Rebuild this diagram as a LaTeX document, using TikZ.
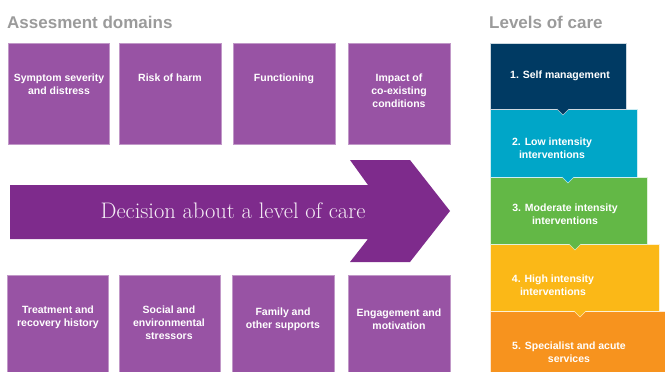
\documentclass[tikz,border=0pt]{standalone}
\usepackage{fontspec}
\setmainfont{Latin Modern Roman}
\newfontfamily\boxfont[BoldFont={Liberation Sans Bold}]{Liberation Sans}
\definecolor{domainfill}{HTML}{9853A4}
\definecolor{arrowpurple}{HTML}{7E2B8C}
\definecolor{titlegray}{HTML}{9B9B9B}
\definecolor{lvlone}{HTML}{003A63}
\definecolor{lvltwo}{HTML}{00A6C8}
\definecolor{lvlthree}{HTML}{63B846}
\definecolor{lvlfour}{HTML}{FBB817}
\definecolor{lvlfive}{HTML}{F7931E}
\tikzset{
  dombox/.style={fill=domainfill, draw=domainfill!60!white, line width=0.5pt},
  boxtext/.style={text=white, font=\boxfont\bfseries\fontsize{10.5}{13}\selectfont, align=center, inner sep=0pt},
  titletext/.style={text=titlegray, font=\boxfont\bfseries\fontsize{17}{17}\selectfont, inner sep=0pt, anchor=west},
  levelbox/.style={draw=white!80!#1, line width=0.4pt, fill=#1},
  notchline/.style={draw=white!70!#1, line width=0.4pt}
}
\begin{document}
\begin{tikzpicture}[x=1pt, y=-1pt]
\useasboundingbox (0,0) rectangle (665,372);
\fill[white] (0,0) rectangle (665,372);

% titles
\node[titletext] (t1) at (7,22) {Assesment domains};
\node[titletext] (t2) at (489,22) {Levels of care};

% top domain boxes
\draw[dombox] (8,43) rectangle (109,144);
\draw[dombox] (119,43) rectangle (221,144);
\draw[dombox] (233,43) rectangle (335,144);
\draw[dombox] (348,43) rectangle (450,144);
\node[boxtext, anchor=north] (d1) at (59,73.5) {Symptom severity\\and distress};
\node[boxtext, anchor=north] (d2) at (170,73.5) {Risk of harm};
\node[boxtext, anchor=north] (d3) at (284,73.5) {Functioning};
\node[boxtext, anchor=north] (d4) at (399,73.5) {Impact of\\co-existing\\conditions};

% arrow
\fill[arrowpurple] (10,185) -- (368,185) -- (350,160) -- (410,160) -- (450,211)
  -- (410,262) -- (350,262) -- (368,239) -- (10,239) -- cycle;
\node[text=white!92!arrowpurple, font=\fontsize{22.5}{22.5}\selectfont, inner sep=0pt] (dec) at (233,211) {Decision about a level of care};

% bottom domain boxes
\draw[dombox] (7,275) rectangle (108,380);
\draw[dombox] (119,275) rectangle (220,380);
\draw[dombox] (232,275) rectangle (334,380);
\draw[dombox] (348,275) rectangle (450,380);
\node[boxtext, anchor=north] (b1) at (58,305.5) {Treatment and\\recovery history};
\node[boxtext, anchor=north] (b2) at (169,305.5) {Social and\\environmental\\stressors};
\node[boxtext, anchor=north] (b3) at (283,307.5) {Family and\\other supports};
\node[boxtext, anchor=north] (b4) at (399,308.5) {Engagement and\\motivation};

% levels of care
\draw[levelbox=lvlfive] (490,311) rectangle (668,375);
\draw[levelbox=lvlfour] (490,244) rectangle (659,311);
\fill[lvlfour] (573.5,310.5) -- (580,316.5) -- (586.5,310.5) -- cycle;
\draw[notchline=lvlfour] (574,311) -- (580,317) -- (586,311);
\draw[levelbox=lvlthree] (490,177) rectangle (647,244);
\fill[lvlthree] (568.5,243.5) -- (575,249.5) -- (581.5,243.5) -- cycle;
\draw[notchline=lvlthree] (569,244) -- (575,250) -- (581,244);
\draw[levelbox=lvltwo] (490,109) rectangle (637,177);
\fill[lvltwo] (561.5,176.5) -- (568,182.5) -- (574.5,176.5) -- cycle;
\draw[notchline=lvltwo] (562,177) -- (568,183) -- (574,177);
\draw[levelbox=lvlone] (490,43) rectangle (626,109);
\fill[lvlone] (556.5,108.5) -- (563,114.5) -- (569.5,108.5) -- cycle;
\draw[notchline=lvlone] (557,109) -- (563,115) -- (569,109);

\node[boxtext] (l1) at (560,76) {1. Self management};
\node[boxtext] (l2) at (552,148) {2. Low intensity\\interventions};
\node[boxtext] (l3) at (565,214) {3. Moderate intensity\\interventions};
\node[boxtext] (l4) at (553,285.5) {4. High intensity\\interventions};
\node[boxtext] (l5) at (569,352) {5. Specialist and acute\\services};
\end{tikzpicture}
\end{document}
